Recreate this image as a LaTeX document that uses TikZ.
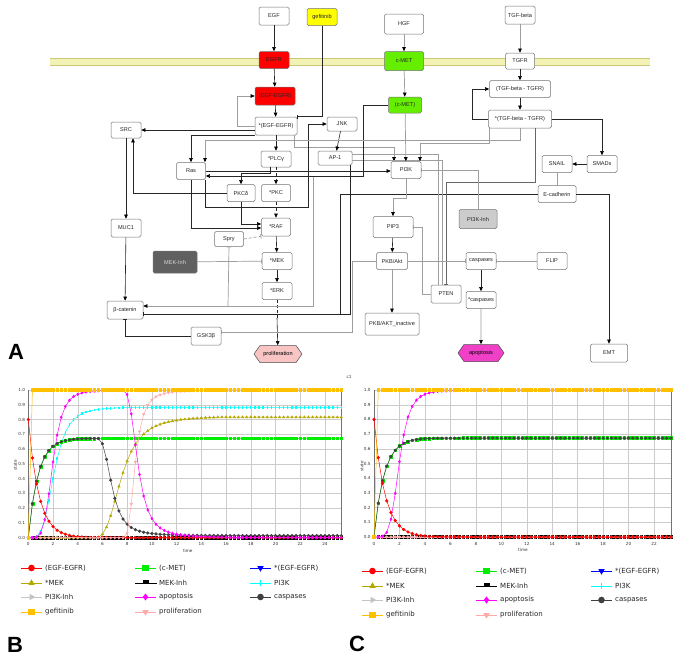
\documentclass[tikz,border=0pt]{standalone}
\usepackage{fontspec}
\setmainfont{Liberation Sans}
\newfontfamily\legfont{DejaVu Sans}
\usetikzlibrary{arrows.meta,shapes.symbols,plotmarks}
\definecolor{cRed}{HTML}{FF0000}
\definecolor{cGreen}{HTML}{00EE00}
\definecolor{cMetG}{HTML}{66EE00}
\definecolor{cOlive}{HTML}{B4A800}
\definecolor{cCyan}{HTML}{00FFFF}
\definecolor{cLGray}{HTML}{C4C4C4}
\definecolor{cMag}{HTML}{FF00FF}
\definecolor{cDGray}{HTML}{404040}
\definecolor{cOrange}{HTML}{FFC000}
\definecolor{cPink}{HTML}{FFAAAA}
\definecolor{cBlue}{HTML}{0000FF}
\definecolor{cYellow}{HTML}{FFFF00}
\definecolor{cInh}{HTML}{606060}
\definecolor{cPInh}{HTML}{CCCCCC}
\definecolor{cProl}{HTML}{F8C4C4}
\definecolor{cApop}{HTML}{F040C8}
\definecolor{cMemb}{HTML}{F2F2B4}
\definecolor{cMembE}{HTML}{C8C878}
\newcommand\legent[4]{\draw[#3, line width=0.9pt, mark size=2.8pt, mark indices={2}] plot coordinates {(#1,#2) (#1+10.5,#2) (#1+21,#2)};
  \node[legtxt] at (#1+24,#2) {#4};}
\tikzset{
  box/.style={draw=black!55, fill=white, rounded corners=1.5pt, line width=0.5pt, inner sep=0.5pt, font=\fontsize{5.6}{6.5}\selectfont, text=black!85},
  wh/.style 2 args={box, minimum width=#1pt, minimum height=#2pt},
  hexn/.style={signal, signal to=west and east, signal pointer angle=110, draw=black!70, line width=0.5pt, inner sep=0.5pt, font=\fontsize{5.6}{6.5}\selectfont},
  arr/.style={-{Triangle[length=4.2pt,width=3.6pt,color=black]}, line width=0.6pt, draw=black!85},
  inh/.style={-{Bar[width=4.5pt]}, line width=0.6pt, draw=black!85},
  gl/.style={draw=black!38, line width=0.7pt},
  gridln/.style={draw=black!20, line width=0.4pt},
  frameln/.style={draw=black!55, line width=1pt},
  ticklbl/.style={font=\legfont\fontsize{4.2}{5}\selectfont, text=black!80, inner sep=0pt},
  legtxt/.style={font=\legfont\fontsize{7}{8}\selectfont, text=black!85, inner sep=0pt, anchor=west},
  pm/.style={line width=0.5pt, mark size=1.35pt},
  sRed/.style={pm, draw=cRed, mark=*, mark options={draw=cRed, fill=cRed}},
  sGreen/.style={pm, draw=cGreen, mark=square*, mark options={draw=cGreen, fill=cGreen}},
  sBlue/.style={pm, draw=cBlue, mark=triangle*, mark options={rotate=180, draw=cBlue, fill=cBlue}},
  sMEK/.style={pm, draw=cOlive, mark=triangle*, mark options={draw=cOlive, fill=cOlive}},
  sMEKInh/.style={pm, draw=black, mark=square*, mark options={draw=black, fill=black}},
  sPI3K/.style={pm, draw=cCyan, mark=|, mark options={draw=cCyan, line width=1.3pt}},
  sPInh/.style={pm, draw=cLGray, mark=triangle*, mark options={rotate=-90, draw=cLGray, fill=cLGray}},
  sApop/.style={pm, draw=cMag, mark=diamond*, mark options={draw=cMag, fill=cMag}},
  sCasp/.style={pm, draw=cDGray, mark=*, mark options={draw=cDGray, fill=cDGray}},
  sGef/.style={pm, draw=cOrange, mark=square*, mark options={draw=cOrange, fill=cOrange}},
  sProl/.style={pm, draw=cPink, mark=triangle*, mark options={rotate=180, draw=cPink, fill=cPink}},
  biglbl/.style={font=\bfseries\fontsize{22}{22}\selectfont, inner sep=0pt}
}
\begin{document}
\begin{tikzpicture}[x=1pt,y=-1pt]
\useasboundingbox (0,0) rectangle (700,662);
\fill[white] (0,0) rectangle (700,662);
% membrane
\fill[cMemb] (50,58.5) rectangle (650,65.5);
\draw[cMembE, line width=0.8pt] (50,58.5) -- (650,58.5) (50,65.5) -- (650,65.5);
% nodes
\node[wh={30}{18}] (EGF) at (274,16) {EGF};
\node[wh={30}{17}, fill=cYellow] (gef) at (322,17) {gefitinib};
\node[wh={30}{17}, fill=cRed] (EGFR) at (274,60) {EGFR};
\node[wh={40}{18}, fill=cRed] (EGFEGFR) at (275,96) {(EGF-EGFR)};
\node[wh={42}{18}] (sEGF) at (276,126) {*(EGF-EGFR)};
\node[wh={30}{14}] (JNK) at (342,124) {JNK};
\node[wh={34}{14}] (AP1) at (335,158) {AP-1};
\node[wh={30}{16}] (SRC) at (126,130) {SRC};
\node[wh={30}{16}] (PLCg) at (276,159) {*PLCγ};
\node[wh={29}{17}] (Ras) at (191,171) {Ras};
\node[wh={28}{17}] (PKCd) at (241,193) {PKCδ};
\node[wh={29}{17}] (PKC) at (276,193) {*PKC};
\node[wh={29}{18}] (RAF) at (276,227) {*RAF};
\node[wh={30}{18}] (MUC1) at (126,228) {MUC1};
\node[wh={29}{15}] (Spry) at (229,239) {Spry};
\node[wh={44}{22}, fill=cInh, text=black!15] (MEKInh) at (175,262) {MEK-Inh};
\node[wh={30}{17}] (MEK) at (277,261) {*MEK};
\node[wh={30}{17}] (ERK) at (277,291) {*ERK};
\node[wh={36}{18}] (bcat) at (125,310) {β-catenin};
\node[wh={30}{18}] (GSK) at (206,336) {GSK3β};
\node[hexn, fill=cProl, minimum width=48pt, minimum height=17pt] (prolif) at (278,354) {proliferation};
\node[wh={39}{20}] (HGF) at (404,24) {HGF};
\node[wh={39}{19}, fill=cMetG] (cMET) at (404,61) {c-MET};
\node[wh={33}{16}, fill=cMetG] (cMETc) at (405,105) {(c-MET)};
\node[wh={30}{18}] (TGFb) at (520,15) {TGF-beta};
\node[wh={29}{16}] (TGFR) at (520,61) {TGFR};
\node[wh={61}{17}] (TGFc) at (520,89) {(TGF-beta - TGFR)};
\node[wh={63}{18}] (sTGF) at (520,119) {*(TGF-beta - TGFR)};
\node[wh={30}{17}] (PI3K) at (406,170) {PI3K};
\node[wh={30}{17}] (SNAIL) at (557,164) {SNAIL};
\node[wh={30}{17}] (SMADs) at (602,164) {SMADs};
\node[wh={38}{17}] (Ecad) at (557,194) {E-cadherin};
\node[wh={38}{19}, fill=cPInh] (PI3KInh) at (478,219) {PI3K-Inh};
\node[wh={40}{21}] (PIP3) at (393,227) {PIP3};
\node[wh={31}{17}] (PKB) at (392,261) {PKB/Akt};
\node[wh={30}{17}] (casp) at (481,261) {caspases};
\node[wh={30}{17}] (FLIP) at (552,261) {FLIP};
\node[wh={30}{18}] (PTEN) at (446,294) {PTEN};
\node[wh={30}{17}] (scasp) at (481,300) {*caspases};
\node[wh={54}{22}] (PKBin) at (392,324) {PKB/AKT\_inactive};
\node[hexn, fill=cApop, minimum width=46pt, minimum height=17pt] (apop) at (481,353) {apoptosis};
\node[wh={37}{18}] (EMT) at (609,353) {EMT};
\coordinate (erkmid) at (277,318);
\coordinate (jb) at (313,176);
\coordinate (js) at (228,306);
\coordinate (ptk) at (446,182);
% edges
\draw[arr] (EGF) -- (EGFR);
\draw[arr] (EGFR) -- (EGFEGFR);
\draw[arr] (EGFEGFR) -- (sEGF);
\draw[arr,gl] (sEGF.west) -- ++(-17,0) |- (EGFEGFR.west);
\draw[inh] (gef.south) |- (sEGF.north east);
\draw[arr] (sEGF.west |- SRC.east) -- (SRC.east);
\draw[arr] (sEGF.south west) -| (Ras.north);
\draw[arr] (sEGF) -- (PLCg);
\draw[arr,gl] ([xshift=-3pt]sEGF.south east) -- ++(0,12) -| ([xshift=-12pt]PI3K.north);
\draw[arr] (Ras.south east) |- (308,207) |- (JNK.west);
\draw[arr] (JNK) -- (AP1);
\draw[arr] (Ras.south) |- ([yshift=-1pt]RAF.west);
\draw[arr] (PKCd.south) |- ([yshift=3pt]RAF.west);
\draw[arr] (PKCd.west) -| ([xshift=7pt]SRC.south);
\draw[arr] ([xshift=-6pt]PLCg.south) -- ++(0,6) -| (PKCd.north);
\draw[arr,dashed] (PLCg) -- (PKC);
\draw[arr,dashed] (PKC) -- (RAF);
\draw[arr] (SRC) -- (MUC1);
\draw[arr] (MUC1) -- (bcat);
\draw[inh,gl,densely dashed] (Spry.east) -- (RAF.south west);
\draw[arr] (RAF) -- (MEK);
\draw[inh,gl] (MEKInh) -- (MEK);
\draw[arr] (MEK) -- (ERK);
\draw[densely dashed, line width=0.6pt, black!85] (ERK) -- (erkmid);
\draw[arr] (erkmid) -- (prolif);
\draw[arr,gl] (jb) |- ([yshift=4pt]bcat.east);
\draw[inh,gl] (js) -- (Spry.south);
\draw[inh] (Ecad.west) -| (340,314) -- ([yshift=-4pt]bcat.east);
\draw[line width=0.6pt, black!85] ([xshift=-2pt]AP1.south east) |- (340,314);
\draw[gl] ([yshift=4pt]AP1.east) -| ([xshift=-8pt]PTEN.north);
\draw[gl] ([yshift=-2pt]AP1.east) -| ([xshift=-4pt]PTEN.north);
\draw[arr] (cMETc.west) -| (363,176) -- ([yshift=-5pt]Ras.east);
\draw[arr] (Ras.east) -- (Ras.east -| PI3K.west);
\draw[arr,gl] (HGF) -- (cMET);
\draw[arr,gl] (cMET) -- (cMETc);
\draw[arr,gl] (cMETc) -- (PI3K);
\draw[arr,gl] (TGFb) -- (TGFR);
\draw[arr] (TGFR) -- (TGFc);
\draw[arr] (TGFc) -- (sTGF);
\draw[arr] (sTGF.west) -- ++(-16,0) |- (TGFc.west);
\draw[arr] (sTGF.east) -| (SMADs.north);
\draw[arr] (SMADs) -- (SNAIL);
\draw[inh,gl] (SNAIL) -- (Ecad);
\draw[arr,gl] ([xshift=1pt]sTGF.south west) -- ++(0,15) -| ([xshift=14pt]PI3K.north);
\draw[arr,gl] (sTGF.south) -- ++(0,12) -| ([xshift=14pt]Ras.north);
\draw[inh,draw=black!60] ([xshift=15pt]sTGF.south) |- (ptk) -- (PTEN.north);
\draw[inh,gl] (PI3KInh.north) |- (PI3K.east);
\draw[arr,gl] (PI3K.south) -- ++(0,20) -| (PIP3.north);
\draw[arr] (PIP3) -- (PKB);
\draw[inh,gl] (PTEN.west) -- ++(-8,0) |- (PIP3.east);
\draw[inh,gl] (PKB) -- (casp);
\draw[inh,gl] (FLIP) -- (casp);
\draw[arr] (casp) -- (scasp);
\draw[arr,gl] (scasp) -- (apop);
\draw[arr,gl] (PKB) -- (PKBin);
\draw[inh,gl] (PKB.west) -- ++(-24,0) |- ([yshift=4pt]GSK.east);
\draw[inh] (GSK.west) -| (bcat.south);
\draw[arr] (Ecad.east) -| (EMT.north);
% labels
\node[biglbl] (lA) at (16,352) {A};
\node[biglbl] (lB) at (15,645) {B};
\node[biglbl] (lC) at (357,644) {C};
\node[ticklbl] (c1) at (349,377) {c1};
% ---------- plot B ----------
\begin{scope}[shift={(28.3,537.7)},x=12.36pt,y=147.7pt]
  \foreach \t in {0,2,...,24} \draw[gridln] (\t,0) -- (\t,1);
  \foreach \i in {0,...,10} \draw[gridln] (0,\i/10) -- (25.3,\i/10);
  \draw[frameln] (0,0) -- (0,1);
  \draw[frameln] (25.3,0) -- (25.3,1);
  \foreach \l [count=\i from 0] in {0.0,0.1,0.2,0.3,0.4,0.5,0.6,0.7,0.8,0.9,1.0}
    \node[ticklbl, anchor=east] at (-0.25,\i/10) {\l};
  \foreach \t in {0,2,...,24} \node[ticklbl] at (\t,-0.045) {\t};
  \node[ticklbl] at (12.9,-0.09) {time};
  \node[ticklbl, rotate=90] at (-1.05,0.49) {state};
  \draw[sBlue] plot[domain=0:25.33, samples=77] (\x,0);
  \draw[sMEKInh] plot[domain=0:25.33, samples=77] (\x,0);
  \draw[sPInh] plot[domain=0:25.33, samples=77] (\x,0);
  \draw[sMEK] plot[domain=0:25.33, samples=77] (\x,{0.825*(max(0,min(\x-5.3,10))/2.26)^3/(1+(max(0,min(\x-5.3,10))/2.26)^3)});
  \draw[sPI3K] plot[domain=0:25.33, samples=77] (\x,{0.885*(min(\x,8)/2.1)^4/(1+(min(\x,8)/2.1)^4)});
  \draw[sGreen] plot[domain=0:25.33, samples=77] (\x,{0.673*(1-exp(max(-12,-1.26*\x)))});
  \draw[sCasp] plot[domain=0:25.33, samples=77] (\x,{0.673*(1-exp(max(-12,-1.26*\x)))*(0.02+0.98/(1+(max(0,min(\x-5.5,12))/1.28)^3))});
  \draw[sRed] plot[domain=0:25.33, samples=77] (\x,{0.8*exp(max(-12,-1.18*\x))});
  \draw[sProl] plot[domain=0:25.33, samples=77] (\x,{(max(0,min(\x-7.7,12))/0.95)^3/(1+(max(0,min(\x-7.7,12))/0.95)^3)});
  \draw[sApop] plot[domain=0:25.33, samples=77] (\x,{(min(\x,8)/1.98)^5/(1+(min(\x,8)/1.98)^5)/(1+(max(0,min(\x-7.6,12))/1.27)^3)});
  \draw[sGef] plot[domain=0:25.33, samples=77] (\x,{min(1,3.01*\x)});
\end{scope}
% ---------- plot C ----------
\begin{scope}[shift={(374,537)},x=12.73pt,y=147pt]
  \foreach \t in {0,2,...,22} \draw[gridln] (\t,0) -- (\t,1);
  \foreach \i in {0,...,10} \draw[gridln] (0,\i/10) -- (23.4,\i/10);
  \draw[frameln] (0,0) -- (0,1);
  \draw[frameln] (23.4,0) -- (23.4,1);
  \foreach \l [count=\i from 0] in {0.0,0.1,0.2,0.3,0.4,0.5,0.6,0.7,0.8,0.9,1.0}
    \node[ticklbl, anchor=east] at (-0.25,\i/10) {\l};
  \foreach \t in {0,2,...,22} \node[ticklbl] at (\t,-0.045) {\t};
  \node[ticklbl] at (11.7,-0.09) {time};
  \node[ticklbl, rotate=90] at (-0.94,0.48) {state};
  \draw[sBlue] plot[domain=0:23.33, samples=71] (\x,0);
  \draw[sMEKInh] plot[domain=0:23.33, samples=71] (\x,0);
  \draw[sPInh] plot[domain=0:23.33, samples=71] (\x,0);
  \draw[sMEK] plot[domain=0:23.33, samples=71] (\x,0);
  \draw[sPI3K] plot[domain=0:23.33, samples=71] (\x,0);
  \draw[sProl] plot[domain=0:23.33, samples=71] (\x,0);
  \draw[sGreen] plot[domain=0:23.33, samples=71] (\x,{0.673*(1-exp(max(-12,-1.26*\x)))});
  \draw[sCasp] plot[domain=0:23.33, samples=71] (\x,{0.673*(1-exp(max(-12,-1.26*\x)))});
  \draw[sRed] plot[domain=0:23.33, samples=71] (\x,{0.8*exp(max(-12,-1.18*\x))});
  \draw[sApop] plot[domain=0:23.33, samples=71] (\x,{(min(\x,8)/1.98)^5/(1+(min(\x,8)/1.98)^5)});
  \draw[sGef] plot[domain=0:23.33, samples=71] (\x,{min(1,3.01*\x)});
\end{scope}
% ---------- legend B ----------
\legent{21}{568}{sRed}{(EGF-EGFR)}
\legent{135}{568}{sGreen}{(c-MET)}
\legent{250}{568}{sBlue}{*(EGF-EGFR)}
\legent{21}{583}{sMEK}{*MEK}
\draw[black, line width=0.9pt] (135,583) -- (157,583);
\fill[black] (143,579.5) rectangle (149,583);
\node[legtxt] (lgB5) at (159,583) {MEK-Inh};
\legent{250}{583}{sPI3K}{PI3K}
\legent{21}{597}{sPInh}{PI3K-Inh}
\legent{135}{597}{sApop}{apoptosis}
\legent{250}{597}{sCasp}{caspases}
\legent{21}{612}{sGef}{gefitinib}
\legent{135}{612}{sProl}{proliferation}
% ---------- legend C ----------
\legent{362}{571}{sRed}{(EGF-EGFR)}
\legent{476}{571}{sGreen}{(c-MET)}
\legent{591}{571}{sBlue}{*(EGF-EGFR)}
\legent{362}{586}{sMEK}{*MEK}
\draw[black, line width=0.9pt] (476,586) -- (497,586);
\fill[black] (483.5,582.5) rectangle (489.5,586);
\node[legtxt] (lgC5) at (500,586) {MEK-Inh};
\legent{591}{586}{sPI3K}{PI3K}
\legent{362}{600}{sPInh}{PI3K-Inh}
\legent{476}{600}{sApop}{apoptosis}
\legent{591}{600}{sCasp}{caspases}
\legent{362}{615}{sGef}{gefitinib}
\legent{476}{615}{sProl}{proliferation}
\end{tikzpicture}
\end{document}
